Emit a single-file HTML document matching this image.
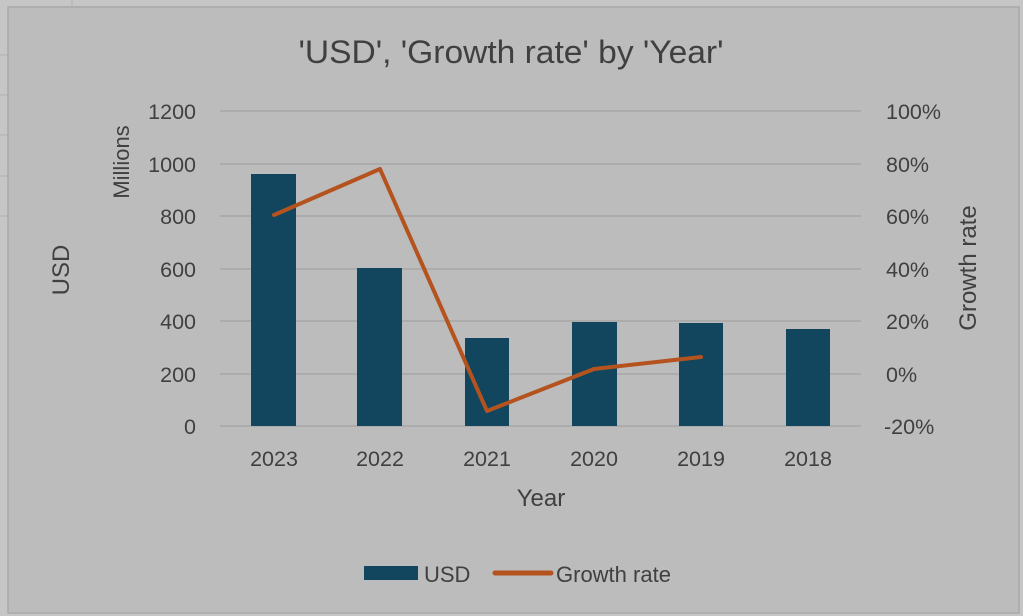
<!DOCTYPE html>
<html><head><style>
body{margin:0;background:#c4c4c4;}
svg{display:block;font-family:"Liberation Sans",sans-serif;}
</style></head><body>
<svg width="1023" height="616" viewBox="0 0 1023 616">
<rect x="0" y="0" width="1023" height="616" fill="#c6c6c6"/>
<g stroke="#b0b0b0" stroke-width="1">
<line x1="72" y1="0" x2="72" y2="7"/><line x1="0" y1="55" x2="8" y2="55"/><line x1="0" y1="95" x2="8" y2="95"/><line x1="0" y1="135" x2="8" y2="135"/><line x1="0" y1="176" x2="8" y2="176"/><line x1="0" y1="216" x2="8" y2="216"/>
</g>
<rect x="8" y="7" width="1011" height="606" fill="#bcbcbc" stroke="#a8a8a8" stroke-width="1.5"/>
<text x="511" y="63" font-size="32" fill="#404040" text-anchor="middle" textLength="425" lengthAdjust="spacingAndGlyphs">'USD', 'Growth rate' by 'Year'</text>
<g stroke="#a6a6a6" stroke-width="1.5">
<line x1="220" y1="111" x2="861" y2="111"/><line x1="220" y1="164" x2="861" y2="164"/><line x1="220" y1="216" x2="861" y2="216"/><line x1="220" y1="269" x2="861" y2="269"/><line x1="220" y1="321" x2="861" y2="321"/><line x1="220" y1="374" x2="861" y2="374"/><line x1="220" y1="426" x2="861" y2="426"/>
</g>
<g fill="#12455e">
<rect x="251" y="174" width="45" height="252"/><rect x="357" y="268" width="45" height="158"/><rect x="465" y="338" width="44" height="88"/><rect x="572" y="322" width="45" height="104"/><rect x="679" y="323" width="44" height="103"/><rect x="786" y="329" width="44" height="97"/>
</g>
<polyline points="274,215 380,169 487,411 594,369 701,357" fill="none" stroke="#b5531f" stroke-width="4" stroke-linejoin="round" stroke-linecap="round"/>
<g font-size="21.5" fill="#404040" text-anchor="end">
<text x="196" y="119">1200</text><text x="196" y="172">1000</text><text x="196" y="224">800</text><text x="196" y="277">600</text><text x="196" y="329">400</text><text x="196" y="382">200</text><text x="196" y="434">0</text>
</g>
<g font-size="21.5" fill="#404040" text-anchor="start">
<text x="886" y="119">100%</text><text x="886" y="172">80%</text><text x="886" y="224">60%</text><text x="886" y="277">40%</text><text x="886" y="329">20%</text><text x="886" y="382">0%</text><text x="884" y="434">-20%</text>
</g>
<g font-size="21.5" fill="#404040" text-anchor="middle">
<text x="274" y="466">2023</text><text x="380" y="466">2022</text><text x="487" y="466">2021</text><text x="594" y="466">2020</text><text x="701" y="466">2019</text><text x="808" y="466">2018</text>
</g>
<text x="541" y="506" font-size="24" fill="#404040" text-anchor="middle">Year</text>
<text transform="translate(129,162) rotate(-90)" font-size="22" fill="#404040" text-anchor="middle">Millions</text>
<text transform="translate(69,270) rotate(-90)" font-size="24" fill="#404040" text-anchor="middle">USD</text>
<text transform="translate(976,268) rotate(-90)" font-size="24" fill="#404040" text-anchor="middle">Growth rate</text>
<rect x="364" y="566" width="54" height="14" fill="#12455e"/>
<text x="424" y="582" font-size="22" fill="#404040">USD</text>
<line x1="495" y1="573" x2="551" y2="573" stroke="#b5531f" stroke-width="5" stroke-linecap="round"/>
<text x="556" y="582" font-size="22" fill="#404040">Growth rate</text>
</svg>
</body></html>
